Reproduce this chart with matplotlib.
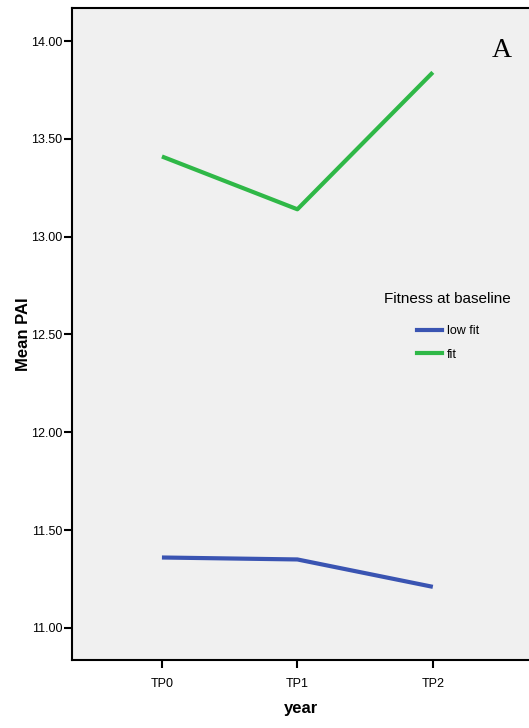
import matplotlib
matplotlib.use('Agg')
import matplotlib.pyplot as plt
from matplotlib.lines import Line2D

plt.rcParams['font.family'] = ['Liberation Sans', 'DejaVu Sans']

years = ['TP0', 'TP1', 'TP2']
low_fit = [11.36, 11.35, 11.21]
fit = [13.41, 13.14, 13.84]
y_ticks = [11.0, 11.5, 12.0, 12.5, 13.0, 13.5, 14.0]

blue = '#3a54b2'
green = '#2fb847'

fig = plt.figure(figsize=(5.29, 7.28), dpi=100)
ax = fig.add_axes([72 / 529, 1 - 660 / 728, 1 - 72 / 529, (660 - 8) / 728])
ax.set_facecolor('#f0f0f0')

x = range(len(years))
ax.plot(x, low_fit, color=blue, lw=3, solid_capstyle='butt', label='low fit')
ax.plot(x, fit, color=green, lw=3, solid_capstyle='butt', label='fit')

ax.set_xlim(-0.664, 2.71)
ax.set_ylim(10.836, 14.169)
ax.set_xticks(list(x))
ax.set_xticklabels(years)
ax.set_yticks(y_ticks)
ax.set_yticklabels(['%.2f' % v for v in y_ticks])
ax.tick_params(direction='out', length=6, width=1.5, labelsize=9)
ax.tick_params(axis='x', pad=7)
ax.tick_params(axis='y', pad=1)

for side in ['left', 'bottom', 'top']:
    ax.spines[side].set_linewidth(1.5)
ax.spines['right'].set_visible(False)

ax.set_xlabel('year', fontsize=12, fontweight='bold', labelpad=8)
ax.set_ylabel('Mean PAI', fontsize=12, fontweight='bold', labelpad=0)

handles = [Line2D([], [], color=blue, lw=3), Line2D([], [], color=green, lw=3)]
leg = ax.legend(handles, ['low fit', 'fit'], title='Fitness at baseline',
                loc='center', bbox_to_anchor=(0.822, 0.512), frameon=False,
                fontsize=9, title_fontsize=11, handlelength=2.0,
                handletextpad=0.4, labelspacing=0.95)
leg._legend_box.sep = 14

ax.text(0.94, 0.935, 'A', transform=ax.transAxes, fontsize=20,
        family='Liberation Serif', ha='center', va='center')

fig.savefig('out.png', dpi=100)
